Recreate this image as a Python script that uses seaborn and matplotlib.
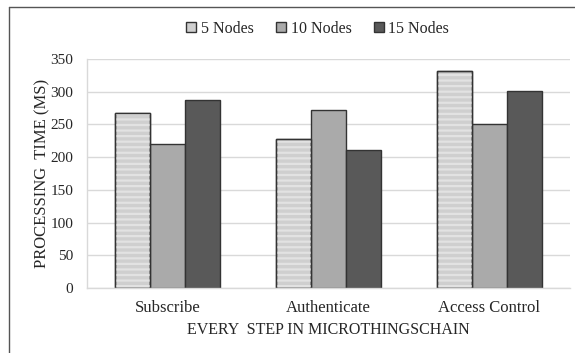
import matplotlib
matplotlib.use("Agg")
import matplotlib.pyplot as plt
import seaborn as sns
import pandas as pd
from matplotlib.patches import Rectangle
from matplotlib.lines import Line2D

steps = ["Subscribe", "Authenticate", "Access Control"]
series = ["5 Nodes", "10 Nodes", "15 Nodes"]
nodes5 = [268, 228, 332]
nodes10 = [220, 272, 250]
nodes15 = [287, 211, 301]
yticks = [0, 50, 100, 150, 200, 250, 300, 350]

rows = []
for s, vals in zip(series, [nodes5, nodes10, nodes15]):
    for st, v in zip(steps, vals):
        rows.append({"step": st, "series": s, "value": v})
df = pd.DataFrame(rows)

sns.set_theme(style="white")
plt.rcParams["font.family"] = ["Liberation Serif", "DejaVu Serif"]
plt.rcParams["hatch.linewidth"] = 1.6

colors = ["#cfcfcf", "#aaaaaa", "#595959"]
fig = plt.figure(figsize=(5.75, 3.53), dpi=100)
ax = fig.add_axes([87/575, 1-288/353, (570-87)/575, (288-59)/353])

sns.barplot(data=df, x="step", y="value", hue="series", order=steps,
            hue_order=series, palette=colors, width=0.65, ax=ax,
            edgecolor="#333333", linewidth=1.0, legend=False, saturation=1)

# stripe overlay for the 5 Nodes bars
for p in ax.containers[0]:
    z = p.get_zorder()
    ov = Rectangle(p.get_xy(), p.get_width(), p.get_height(), fill=False,
                   hatch="---", edgecolor="#e2e2e2", linewidth=0, zorder=z + 0.1)
    ax.add_patch(ov)
    edge = Rectangle(p.get_xy(), p.get_width(), p.get_height(), fill=False,
                     edgecolor="#333333", linewidth=1.0, zorder=z + 0.2)
    ax.add_patch(edge)

ax.set_ylim(0, 350)
ax.set_xlim(-0.5, 2.5)
ax.set_yticks(yticks)
ax.set_yticklabels([str(t) for t in yticks], fontsize=11)
ax.yaxis.grid(True, color="#d9d9d9", linewidth=1.0)
ax.set_axisbelow(True)
for side in ["top", "right"]:
    ax.spines[side].set_visible(False)
for side in ["left", "bottom"]:
    ax.spines[side].set_color("#d9d9d9")
    ax.spines[side].set_linewidth(1.0)
ax.tick_params(axis="y", length=0, pad=10)
ax.tick_params(axis="x", length=0, pad=9)
ax.set_xticks(range(len(steps)))
ax.set_xticklabels(steps, fontsize=12)
ax.set_xlabel("EVERY  STEP IN MICROTHINGSCHAIN", fontsize=11.5, labelpad=4)
ax.set_ylabel("PROCESSING  TIME (MS)", fontsize=12, labelpad=0)

handles = [Line2D([], [], marker="s", linestyle="none", markersize=7,
                  markerfacecolor=c, markeredgecolor="#333333", markeredgewidth=1)
           for c in colors]
fig.legend(handles, series, loc="center", bbox_to_anchor=(0.55, 1-29/353),
           ncol=3, frameon=False, fontsize=11.5, handletextpad=0.1,
           columnspacing=1.2, handlelength=1.0)

# outer frame lines
fig.add_artist(Line2D([9/575, 9/575], [0, 1-7/353], transform=fig.transFigure,
                      color="#555555", linewidth=1.0))
fig.add_artist(Line2D([9/575, 1], [1-7/353, 1-7/353], transform=fig.transFigure,
                      color="#555555", linewidth=1.0))

fig.savefig("out.png", dpi=100)
